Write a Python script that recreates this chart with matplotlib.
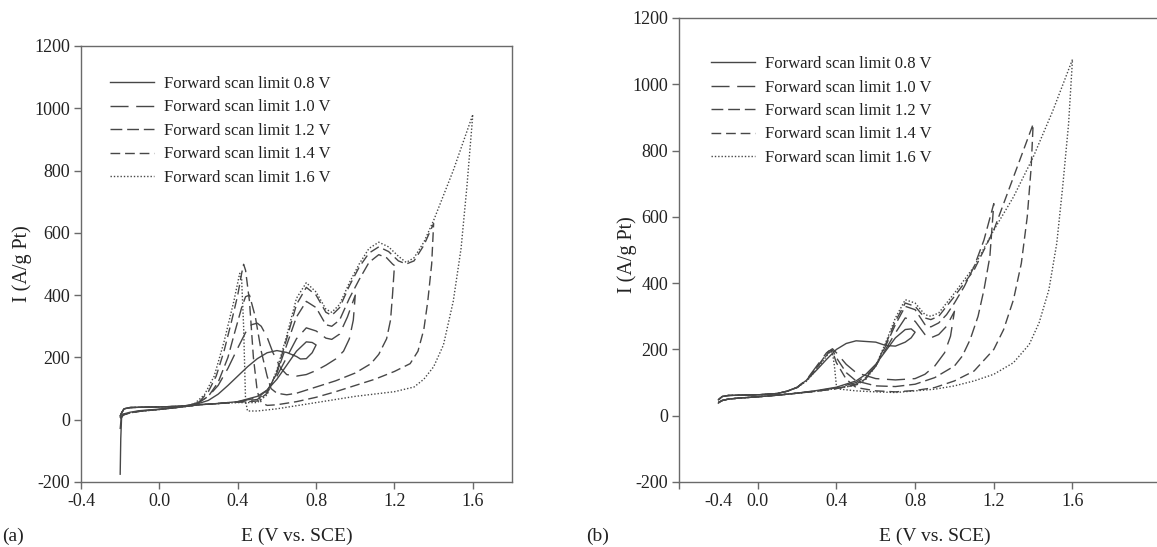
import matplotlib
matplotlib.use("Agg")
import matplotlib.pyplot as plt

plt.rcParams['font.family'] = ['Liberation Serif', 'DejaVu Serif']

# ---- data: (a) ----
a_E_08 = [-0.2, -0.197, -0.193, -0.185, -0.15, -0.1, 0.0, 0.1, 0.15, 0.2, 0.3, 0.4, 0.5, 0.55, 0.6, 0.65, 0.7, 0.75, 0.78, 0.8,
          0.78, 0.75, 0.72, 0.7, 0.65, 0.6, 0.55, 0.5, 0.45, 0.4, 0.35, 0.3, 0.25, 0.2, 0.15, 0.1, 0.0, -0.1, -0.15, -0.18, -0.19, -0.2]
a_I_08 = [-175, -60, 5, 18, 24, 29, 34, 40, 44, 48, 52, 58, 75, 95, 130, 175, 220, 250, 248, 240,
          215, 196, 195, 203, 216, 222, 215, 196, 170, 140, 110, 82, 62, 52, 46, 43, 41, 40, 39, 35, 25, 10]

a_E_10 = [-0.2, -0.195, -0.185, -0.15, -0.1, 0.0, 0.1, 0.15, 0.2, 0.3, 0.4, 0.5, 0.55, 0.6, 0.65, 0.7, 0.75, 0.8, 0.85, 0.88, 0.92, 0.96, 1.0,
          0.99, 0.97, 0.94, 0.9, 0.85, 0.8, 0.75, 0.7, 0.65, 0.62, 0.58, 0.55, 0.52, 0.5, 0.47, 0.44, 0.4, 0.35, 0.3, 0.25, 0.2, 0.15, 0.1, 0.0, -0.1, -0.15, -0.18, -0.19, -0.2]
a_I_10 = [-30, 5, 17, 23, 28, 33, 40, 44, 48, 52, 58, 70, 95, 140, 200, 260, 295, 285, 262, 258, 275, 330, 400,
          320, 260, 220, 195, 175, 158, 145, 140, 145, 165, 215, 265, 300, 310, 305, 280, 230, 165, 110, 75, 55, 46, 43, 41, 40, 39, 35, 25, 12]

a_E_12 = [-0.2, -0.19, -0.18, -0.15, -0.1, 0.0, 0.1, 0.15, 0.2, 0.3, 0.4, 0.5, 0.55, 0.6, 0.65, 0.7, 0.75, 0.8, 0.85, 0.88, 0.92, 0.97, 1.02, 1.07, 1.12, 1.16, 1.19, 1.2,
          1.19, 1.18, 1.16, 1.12, 1.08, 1.0, 0.9, 0.8, 0.75, 0.7, 0.65, 0.6, 0.57, 0.55, 0.52, 0.49, 0.46, 0.44, 0.42, 0.38, 0.35, 0.3, 0.25, 0.2, 0.15, 0.1, 0.0, -0.1, -0.15, -0.18, -0.19, -0.2]
a_I_12 = [5, 12, 16, 22, 27, 33, 40, 44, 48, 52, 57, 65, 90, 150, 240, 330, 380, 360, 305, 300, 320, 390, 450, 505, 530, 520, 500, 495,
          400, 320, 260, 210, 180, 150, 125, 105, 95, 85, 80, 85, 100, 140, 220, 330, 400, 395, 360, 270, 200, 120, 75, 55, 46, 43, 41, 40, 39, 35, 25, 12]

a_E_14 = [-0.2, -0.19, -0.18, -0.15, -0.1, 0.0, 0.1, 0.15, 0.2, 0.3, 0.4, 0.5, 0.55, 0.6, 0.65, 0.7, 0.75, 0.8, 0.85, 0.88, 0.92, 0.97, 1.02, 1.07, 1.12, 1.17, 1.22, 1.26, 1.3, 1.35, 1.4,
          1.39, 1.37, 1.35, 1.32, 1.28, 1.2, 1.1, 1.0, 0.9, 0.8, 0.7, 0.6, 0.55, 0.52, 0.5, 0.48, 0.46, 0.44, 0.43, 0.42, 0.4, 0.37, 0.33, 0.29, 0.25, 0.2, 0.15, 0.1, 0.0, -0.1, -0.15, -0.18, -0.19, -0.2]
a_I_14 = [5, 12, 16, 22, 27, 33, 40, 44, 48, 52, 56, 60, 85, 155, 260, 370, 425, 400, 345, 335, 360, 430, 490, 535, 555, 540, 510, 500, 510, 560, 630,
          500, 380, 290, 220, 180, 155, 130, 110, 90, 72, 58, 48, 46, 55, 90, 200, 380, 480, 499, 470, 400, 320, 220, 140, 90, 55, 46, 43, 41, 40, 39, 35, 25, 12]

a_E_16 = [-0.2, -0.19, -0.18, -0.15, -0.1, 0.0, 0.1, 0.15, 0.2, 0.3, 0.4, 0.5, 0.55, 0.6, 0.65, 0.7, 0.75, 0.8, 0.85, 0.88, 0.92, 0.97, 1.02, 1.07, 1.12, 1.17, 1.22, 1.26, 1.3, 1.35, 1.4, 1.45, 1.5, 1.55, 1.6,
          1.57, 1.54, 1.5, 1.45, 1.4, 1.35, 1.3, 1.2, 1.0, 0.8, 0.6, 0.5, 0.45, 0.44, 0.43, 0.42, 0.41, 0.38, 0.33, 0.28, 0.23, 0.18, 0.15, 0.1, 0.0, -0.1, -0.15, -0.18, -0.19, -0.2]
a_I_16 = [5, 12, 16, 22, 27, 33, 40, 44, 48, 52, 55, 55, 80, 160, 270, 390, 440, 410, 355, 345, 370, 440, 500, 550, 570, 555, 525, 505, 520, 570, 640, 720, 800, 890, 980,
          750, 550, 380, 240, 170, 130, 105, 90, 75, 55, 35, 28, 28, 60, 300, 450, 470, 380, 250, 140, 80, 52, 46, 43, 41, 40, 39, 35, 25, 12]

# ---- data: (b) ----
b_E_08 = [-0.2, -0.18, -0.15, -0.1, 0.0, 0.1, 0.2, 0.3, 0.4, 0.5, 0.55, 0.6, 0.65, 0.7, 0.75, 0.78, 0.8,
          0.78, 0.75, 0.7, 0.65, 0.6, 0.5, 0.45, 0.4, 0.35, 0.3, 0.25, 0.2, 0.15, 0.1, 0.0, -0.1, -0.15, -0.18, -0.2]
b_I_08 = [38, 46, 50, 53, 57, 62, 68, 76, 86, 105, 125, 155, 195, 235, 260, 262, 252,
          235, 222, 210, 212, 222, 226, 218, 200, 170, 138, 108, 86, 74, 67, 63, 62, 61, 58, 48]

b_E_10 = [-0.2, -0.18, -0.15, -0.1, 0.0, 0.1, 0.2, 0.3, 0.4, 0.5, 0.55, 0.6, 0.65, 0.7, 0.75, 0.8, 0.85, 0.88, 0.92, 0.96, 1.0,
          0.98, 0.95, 0.9, 0.85, 0.8, 0.7, 0.6, 0.5, 0.45, 0.4, 0.38, 0.35, 0.3, 0.25, 0.2, 0.15, 0.1, 0.0, -0.1, -0.15, -0.18, -0.2]
b_I_10 = [40, 46, 50, 53, 57, 62, 68, 75, 84, 100, 120, 150, 200, 250, 295, 285, 245, 235, 245, 270, 315,
          240, 190, 150, 125, 112, 108, 112, 130, 155, 190, 202, 190, 150, 110, 85, 74, 67, 63, 62, 61, 58, 48]

b_E_12 = [-0.2, -0.18, -0.15, -0.1, 0.0, 0.1, 0.2, 0.3, 0.4, 0.5, 0.55, 0.6, 0.65, 0.7, 0.75, 0.8, 0.85, 0.88, 0.92, 0.96, 1.0, 1.05, 1.1, 1.15, 1.2,
          1.19, 1.18, 1.15, 1.12, 1.08, 1.04, 1.0, 0.9, 0.8, 0.7, 0.6, 0.5, 0.45, 0.4, 0.38, 0.36, 0.3, 0.25, 0.2, 0.15, 0.1, 0.0, -0.1, -0.15, -0.18, -0.2]
b_I_12 = [40, 46, 50, 53, 57, 62, 68, 74, 82, 95, 115, 150, 210, 275, 330, 320, 275, 268, 280, 305, 340, 390, 450, 530, 640,
          560, 480, 380, 300, 230, 180, 150, 115, 95, 88, 90, 105, 130, 175, 198, 195, 145, 108, 85, 74, 67, 63, 62, 61, 58, 48]

b_E_14 = [-0.2, -0.18, -0.15, -0.1, 0.0, 0.1, 0.2, 0.3, 0.4, 0.5, 0.55, 0.6, 0.65, 0.7, 0.75, 0.8, 0.85, 0.88, 0.92, 1.0, 1.1, 1.2, 1.3, 1.4,
          1.39, 1.37, 1.34, 1.3, 1.25, 1.2, 1.1, 1.0, 0.9, 0.8, 0.7, 0.6, 0.5, 0.45, 0.4, 0.38, 0.36, 0.3, 0.25, 0.2, 0.15, 0.1, 0.0, -0.1, -0.15, -0.18, -0.2]
b_I_14 = [40, 46, 50, 53, 57, 62, 68, 74, 82, 93, 112, 150, 215, 285, 340, 330, 295, 290, 300, 360, 440, 560, 720, 880,
          750, 600, 460, 350, 260, 200, 135, 105, 85, 76, 72, 75, 85, 110, 160, 195, 190, 145, 108, 85, 74, 67, 63, 62, 61, 58, 48]

b_E_16 = [-0.2, -0.18, -0.15, -0.1, 0.0, 0.1, 0.2, 0.3, 0.4, 0.5, 0.55, 0.6, 0.65, 0.7, 0.75, 0.8, 0.85, 0.88, 0.92, 1.0, 1.1, 1.2, 1.3, 1.4, 1.5, 1.6,
          1.58, 1.55, 1.52, 1.48, 1.43, 1.38, 1.3, 1.2, 1.1, 1.0, 0.9, 0.8, 0.7, 0.6, 0.5, 0.42, 0.4, 0.39, 0.38, 0.37, 0.35, 0.3, 0.25, 0.2, 0.15, 0.1, 0.0, -0.1, -0.15, -0.18, -0.2]
b_I_16 = [40, 46, 50, 53, 57, 62, 68, 74, 82, 92, 110, 150, 220, 295, 350, 340, 305, 300, 310, 370, 450, 560, 660, 780, 920, 1075,
          880, 690, 520, 380, 280, 215, 160, 125, 105, 90, 80, 75, 70, 72, 75, 80, 90, 150, 190, 195, 180, 140, 105, 85, 74, 67, 63, 62, 61, 58, 48]

labels = ['Forward scan limit 0.8 V', 'Forward scan limit 1.0 V', 'Forward scan limit 1.2 V',
          'Forward scan limit 1.4 V', 'Forward scan limit 1.6 V']
y_ticks = [-200, 0, 200, 400, 600, 800, 1000, 1200]
x_ticks = [-0.4, 0.0, 0.4, 0.8, 1.2, 1.6]
x_tick_labels = ['-0.4', '0.0', '0.4', '0.8', '1.2', '1.6']

styles = [
    dict(linestyle='-'),
    dict(linestyle=(0, (13, 5.5))),
    dict(linestyle=(0, (8.5, 3.5))),
    dict(linestyle=(0, (7, 3.5))),
    dict(linestyle=(0, (1, 1.4))),
]
line_color = '#474747'
axis_color = '#6a6a6a'
text_color = '#222222'

W, H = 1157, 547
fig = plt.figure(figsize=(W / 100, H / 100), dpi=100)

ax_a = fig.add_axes([81 / W, 1 - 482 / H, 431 / W, 436 / H])
ax_b = fig.add_axes([679 / W, 1 - 482 / H, 484 / W, 464 / H])

curves_a = [(a_E_08, a_I_08), (a_E_10, a_I_10), (a_E_12, a_I_12), (a_E_14, a_I_14), (a_E_16, a_I_16)]
curves_b = [(b_E_08, b_I_08), (b_E_10, b_I_10), (b_E_12, b_I_12), (b_E_14, b_I_14), (b_E_16, b_I_16)]

for ax, curves in [(ax_a, curves_a), (ax_b, curves_b)]:
    for (e, i), st, lab in zip(curves, styles, labels):
        ax.plot(e, i, color=line_color, lw=1.0, label=lab, **st)
    ax.set_yticks(y_ticks)
    ax.set_yticklabels([str(v) for v in y_ticks])
    ax.tick_params(direction='out', length=5, width=1, color=axis_color,
                   labelsize=13, labelcolor=text_color, pad=3)
    for s in ax.spines.values():
        s.set_color(axis_color)
        s.set_linewidth(1.0)

# (a) boxed axes
ax_a.set_xlim(-0.4, 1.8)
ax_a.set_ylim(-200, 1200)
ax_a.set_xticks(x_ticks)
ax_a.set_xticklabels(x_tick_labels)

# (b) open on the right, '-0.4' label sits off its tick
ax_b.set_xlim(-0.4, 2.06)
ax_b.set_ylim(-200, 1200)
ax_b.set_xticks(x_ticks)
ax_b.set_xticklabels([''] + x_tick_labels[1:])
ax_b.set_xticks([-0.2], labels=['-0.4'], minor=True)
ax_b.tick_params(axis='x', which='minor', length=0, labelsize=13, labelcolor=text_color, pad=8)
ax_b.spines['right'].set_visible(False)

leg_kw = dict(frameon=False, fontsize=12, handlelength=2.65, handletextpad=0.6,
              labelspacing=0.45, borderpad=0, borderaxespad=0, loc='upper left',
              labelcolor=text_color)
ax_a.legend(bbox_to_anchor=(110 / W, 1 - 76 / H), bbox_transform=fig.transFigure, **leg_kw)
ax_b.legend(bbox_to_anchor=(711 / W, 1 - 56 / H), bbox_transform=fig.transFigure, **leg_kw)

fig.text(22 / W, 1 - 264 / H, 'I (A/g Pt)', rotation=90, ha='center', va='center', fontsize=14.5, color=text_color)
fig.text(627 / W, 1 - 255 / H, 'I (A/g Pt)', rotation=90, ha='center', va='center', fontsize=14.5, color=text_color)
fig.text(297 / W, 1 - 536 / H, 'E (V vs. SCE)', ha='center', va='center', fontsize=14, color=text_color)
fig.text(935 / W, 1 - 536 / H, 'E (V vs. SCE)', ha='center', va='center', fontsize=14, color=text_color)
fig.text(13 / W, 1 - 536 / H, '(a)', ha='center', va='center', fontsize=14, color=text_color)
fig.text(598 / W, 1 - 536 / H, '(b)', ha='center', va='center', fontsize=14, color=text_color)

fig.savefig('out.png', dpi=100)
